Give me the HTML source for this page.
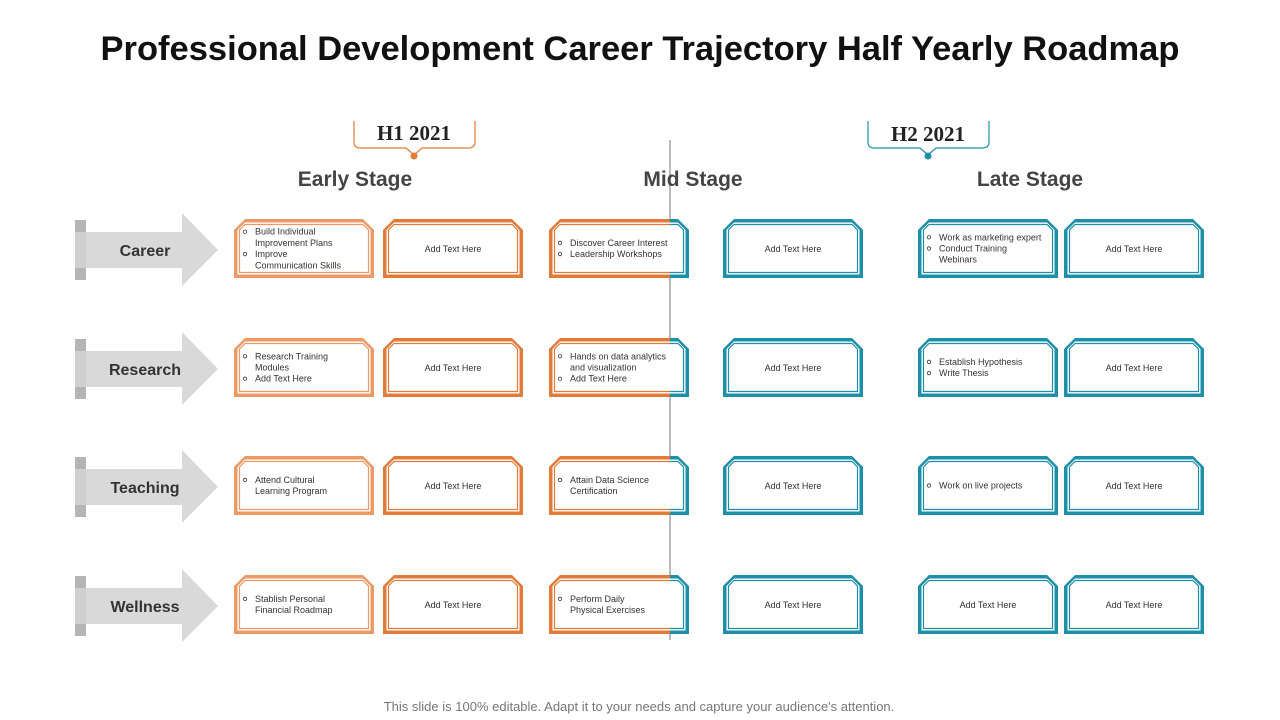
<!DOCTYPE html>
<html><head><meta charset="utf-8"><style>
body{margin:0;width:1280px;height:720px;background:#fff;overflow:hidden;font-family:"Liberation Sans",Arial,sans-serif}
svg{position:absolute;left:0;top:0}
</style></head><body>
<svg id="s" width="1280" height="720" viewBox="0 0 1280 720">
<defs>
<clipPath id="cl"><rect x="0" y="0" width="670" height="720"/></clipPath>
<clipPath id="cr"><rect x="670" y="0" width="610" height="720"/></clipPath>
</defs>
<text x="640" y="60" text-anchor="middle" font-size="34.5" font-weight="bold" fill="#111">Professional Development Career Trajectory Half Yearly Roadmap</text>
<line x1="670" y1="140" x2="670" y2="640" stroke="#777" stroke-width="1"/>
<g>
<path d="M354 121 V142 Q354 148 360 148 H406 L414 155 L422 148 H468 Q475 148 475 142 V121" fill="none" stroke="#E07B39" stroke-width="1.2"/>
<circle cx="414" cy="156" r="3.5" fill="#E07B39"/>
<text x="414" y="140" text-anchor="middle" font-family="Liberation Serif,serif" font-weight="bold" font-size="21" fill="#222">H1 2021</text>
</g>
<g>
<path d="M868 121 V142 Q868 148 874 148 H920 L928 155 L936 148 H982 Q989 148 989 142 V121" fill="none" stroke="#1E8FA8" stroke-width="1.2"/>
<circle cx="928" cy="156" r="3.5" fill="#1E8FA8"/>
<text x="928" y="141" text-anchor="middle" font-family="Liberation Serif,serif" font-weight="bold" font-size="21" fill="#222">H2 2021</text>
</g>
<text x="355" y="186" text-anchor="middle" font-size="21" font-weight="bold" fill="#444">Early Stage</text>
<text x="693" y="186" text-anchor="middle" font-size="21" font-weight="bold" fill="#444">Mid Stage</text>
<text x="1030" y="186" text-anchor="middle" font-size="21" font-weight="bold" fill="#444">Late Stage</text>
<text x="639" y="711" text-anchor="middle" font-size="13" fill="#777">This slide is 100% editable. Adapt it to your needs and capture your audience's attention.</text>
<g id="g"></g>
</svg>
<script>
const rows=["Career","Research","Teaching","Wellness"];
const rowY=[219,338,456,575];
const colX=[234,383,549,723,918,1064];
const content=[
[["Build Individual","  Improvement Plans","Improve","  Communication Skills"],null,["Discover Career Interest","Leadership Workshops"],null,["Work as marketing expert","Conduct Training","  Webinars"],null],
[["Research Training","  Modules","Add Text Here"],null,["Hands on data analytics","  and visualization","Add Text Here"],null,["Establish Hypothesis","Write Thesis"],null],
[["Attend Cultural","  Learning Program"],null,["Attain Data Science","  Certification"],null,["Work on live projects"],null],
[["Stablish Personal","  Financial Roadmap"],null,["Perform Daily","  Physical Exercises"],null,null,null]
];
const NS="http://www.w3.org/2000/svg";
const g=document.getElementById('g');
function el(t,a,p){const e=document.createElementNS(NS,t);for(const k in a)e.setAttribute(k,a[k]);(p||g).appendChild(e);return e;}
function poly(x,y,w,h,c,i){return [[x+c,y+i],[x+w-c,y+i],[x+w-i,y+c],[x+w-i,y+h-i],[x+i,y+h-i],[x+i,y+c]].map(p=>p.join(',')).join(' ');}
function shape(x,y,w,h,col,parent,clip){
  const gg=el('g',clip?{'clip-path':clip}:{},parent);
  el('polygon',{points:poly(x,y,w,h,11,0),fill:col},gg);
  el('polygon',{points:poly(x,y,w,h,11,3.5),fill:'#fff'},gg);
  el('polygon',{points:poly(x,y,w,h,11,5.5),fill:'none',stroke:col,'stroke-width':1.2},gg);
}
const OR="#E07B39",OL="#EC9A65",TE="#1E8FA8";
rows.forEach((r,ri)=>{
  const y=rowY[ri];
  const ag=el('g',{});
  
  
  el('path',{d:`M75 ${y+13} H182 V${y-6} L218 ${y+31} L182 ${y+67} V${y+49} H75 Z`,fill:'#d9d9d9'},ag);
  el('rect',{x:75,y:y+1,width:11,height:12,fill:'#b5b5b5'},ag);
  el('rect',{x:75,y:y+49,width:11,height:12,fill:'#b5b5b5'},ag);
  el('rect',{x:75,y:y+13,width:11,height:36,fill:'#d0d0d0'},ag);
  const t=el('text',{x:145,y:y+37,'text-anchor':'middle','font-size':16,'font-weight':'bold',fill:'#333'},ag);t.textContent=r;
  colX.forEach((x,ci)=>{
    const bg=el('g',{});
    
    
    const w=140,h=59;
    if(ci==0)shape(x,y,w,h,OL,bg);
    else if(ci==1)shape(x,y,w,h,OR,bg);
    else if(ci==2){shape(x,y,w,h,OR,bg,'url(#cl)');shape(x,y,w,h,TE,bg,'url(#cr)');}
    else shape(x,y,w,h,TE,bg);
    const c=content[ri][ci];
    if(!c){const tt=el('text',{x:x+w/2,y:y+33,'text-anchor':'middle','font-size':9,fill:'#333'},bg);tt.textContent='Add Text Here';}
    else{
      const n=c.length,lh=11.2,y0=y+h/2-(n-1)*lh/2+3;
      c.forEach((ln,li)=>{
        const yy=y0+li*lh;
        const isCont=ln.startsWith('  ');
        if(!isCont){el('circle',{cx:x+11,cy:yy-3,r:1.7,fill:'none',stroke:'#333','stroke-width':0.8},bg);}
        const tt=el('text',{x:x+21,y:yy,'font-size':9,fill:'#333'},bg);tt.textContent=ln.trim();
      });
    }
  });
});
</script>
</body></html>
